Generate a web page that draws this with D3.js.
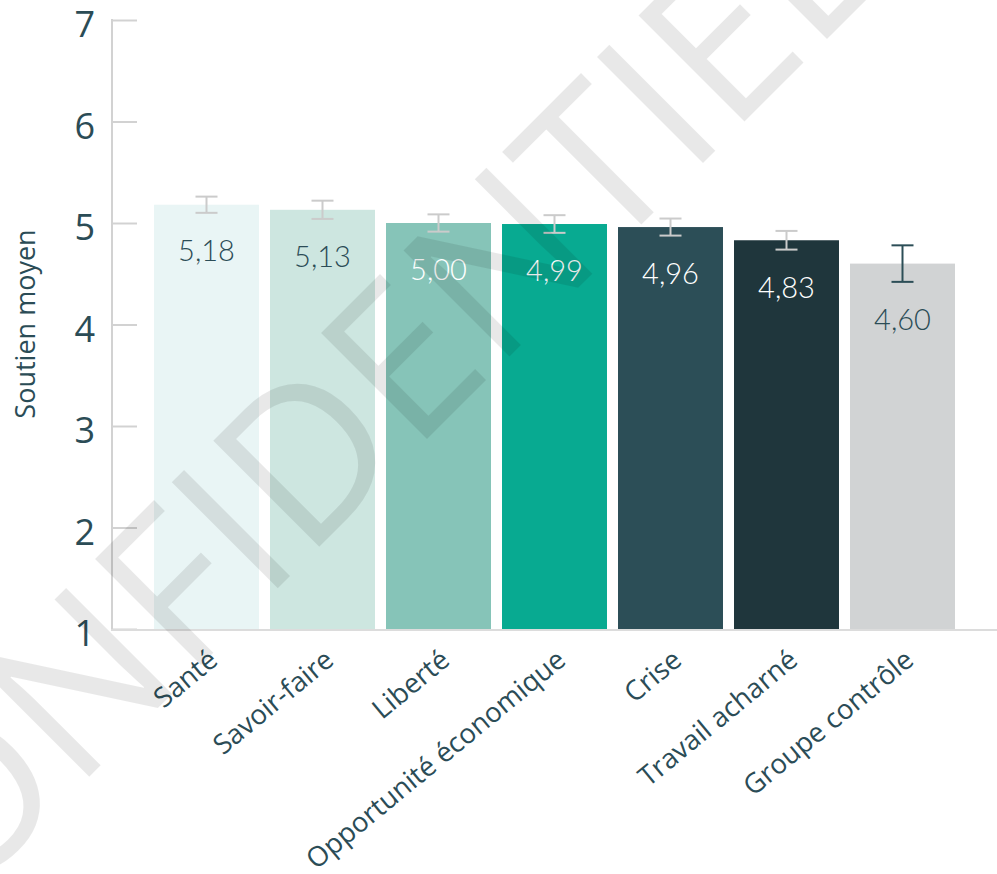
<!DOCTYPE html>
<html>
<head>
<meta charset="utf-8">
<script src="https://cdn.jsdelivr.net/npm/d3@7"></script>
<style>
  body { margin: 0; background: #fff; }
  svg { display: block; }
</style>
</head>
<body>
<div class="canvas"></div>
<script>
const categories = ['Santé', 'Savoir-faire', 'Liberté', 'Opportunité économique', 'Crise', 'Travail acharné', 'Groupe contrôle'];
const means = [5.18, 5.13, 5.00, 4.99, 4.96, 4.83, 4.60];
const errors = [0.08, 0.09, 0.085, 0.087, 0.084, 0.092, 0.18];
const yTicks = [1, 2, 3, 4, 5, 6, 7];
const palette = ['#e9f5f5', '#cde6e0', '#86c4b8', '#08aa91', '#2c4e57', '#1f363c', '#d1d3d4'];

const dims = {width: 997, height: 874};
const textColor = '#2b4c56';

const fr = d3.formatLocale({decimal: ',', thousands: ' ', grouping: [3], currency: ['', '€']});
const fmt = fr.format('.2f');

const data = categories.map((c, i) => ({name: c, value: means[i], err: errors[i]}));

const svg = d3.select('.canvas').append('svg')
    .attr('width', dims.width)
    .attr('height', dims.height);

const x = d3.scaleBand()
    .domain(categories)
    .range([148.5, 960.5])
    .paddingInner(0.095)
    .paddingOuter(0.0475);

const y = d3.scaleLinear()
    .domain([1, 7])
    .range([629, 20]);

const color = d3.scaleOrdinal().domain(categories).range(palette);

// bars
svg.append('g').selectAll('rect')
    .data(data)
    .enter()
        .append('rect')
        .attr('x', d => x(d.name))
        .attr('y', d => y(d.value))
        .attr('width', x.bandwidth())
        .attr('height', d => y(1) - y(d.value))
        .attr('fill', d => color(d.name));

// axes
const yAxis = svg.append('g').attr('transform', 'translate(112,0)')
    .call(d3.axisRight(y).tickValues(yTicks).tickSize(25).tickFormat(''));
yAxis.select('.domain').remove();
yAxis.selectAll('.tick line').attr('stroke', '#d2d2d2').attr('stroke-width', 2);

svg.append('line')
    .attr('x1', 112).attr('x2', 112)
    .attr('y1', y(7) - 1).attr('y2', y(1) + 1)
    .attr('stroke', '#d2d2d2').attr('stroke-width', 2);
svg.append('line')
    .attr('x1', 111).attr('x2', dims.width)
    .attr('y1', y(1) + 1).attr('y2', y(1) + 1)
    .attr('stroke', '#dcdcdc').attr('stroke-width', 2);

svg.append('g').selectAll('text')
    .data(yTicks)
    .enter()
        .append('text')
        .text(d => d)
        .attr('x', 95)
        .attr('y', d => y(d) + 17)
        .attr('text-anchor', 'end')
        .attr('font-family', 'Open Sans')
        .attr('font-size', 36)
        .attr('fill', textColor);

svg.append('text')
    .text('Soutien moyen')
    .attr('transform', 'translate(35,324) rotate(-90)')
    .attr('text-anchor', 'middle')
    .attr('font-family', 'Open Sans')
    .attr('font-size', 27)
    .attr('fill', textColor);

// x labels
svg.append('g').selectAll('text')
    .data(categories)
    .enter()
        .append('text')
        .text(d => d)
        .attr('transform', d => `translate(${x(d) + x.bandwidth() / 2 + 13},663) rotate(-39.5)`)
        .attr('text-anchor', 'end')
        .attr('font-family', 'Open Sans')
        .attr('font-size', 27.5)
        .attr('fill', textColor);

// error bars
const eb = svg.append('g').selectAll('g')
    .data(data)
    .enter()
        .append('g')
        .attr('stroke', (d, i) => i === data.length - 1 ? '#2c4e57' : '#cbcbcb')
        .attr('stroke-width', 2);
eb.append('line')
    .attr('x1', d => x(d.name) + x.bandwidth() / 2)
    .attr('x2', d => x(d.name) + x.bandwidth() / 2)
    .attr('y1', d => y(d.value + d.err))
    .attr('y2', d => y(d.value - d.err));
eb.selectAll('.cap')
    .data(d => [d.value + d.err, d.value - d.err].map(v => ({name: d.name, v})))
    .enter()
        .append('line')
        .attr('class', 'cap')
        .attr('x1', d => x(d.name) + x.bandwidth() / 2 - 11)
        .attr('x2', d => x(d.name) + x.bandwidth() / 2 + 11)
        .attr('y1', d => y(d.v))
        .attr('y2', d => y(d.v));

// value labels
svg.append('g').selectAll('text')
    .data(data)
    .enter()
        .append('text')
        .text(d => fmt(d.value))
        .attr('x', d => x(d.name) + x.bandwidth() / 2)
        .attr('y', d => y(d.value - d.err) + 48)
        .attr('text-anchor', 'middle')
        .attr('font-family', 'Lato')
        .attr('font-weight', 300)
        .attr('font-size', 29)
        .attr('fill', d => d3.lab(color(d.name)).l < 80 ? '#ffffff' : textColor);

// watermark
svg.append('text')
    .text('CONFIDENTIEL')
    .attr('transform', 'translate(890,-24) rotate(-45)')
    .attr('text-anchor', 'end')
    .attr('font-family', 'Open Sans')
    .attr('font-size', 210)
    .attr('fill', '#000')
    .attr('fill-opacity', 0.09)
    .style('pointer-events', 'none');
</script>
</body>
</html>
